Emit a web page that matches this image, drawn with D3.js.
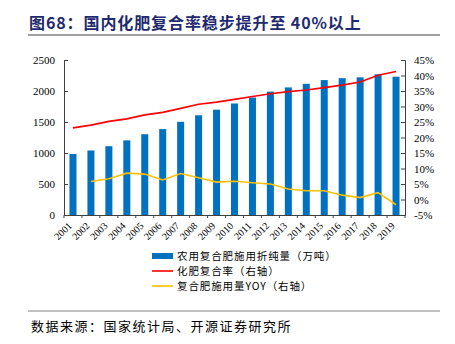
<!DOCTYPE html>
<html>
<head>
<meta charset="utf-8">
<script src="https://cdn.jsdelivr.net/npm/d3@7"></script>
<style>
  body { margin: 0; background: #fff; }
  svg text { font-family: "Liberation Serif", "Noto Sans CJK SC", serif; }
  .cjk { font-family: "Noto Sans CJK SC", sans-serif; }
</style>
</head>
<body>
<div id="chart"></div>
<script>
// 农用复合肥施用折纯量 (万吨), 化肥复合率 (%), 复合肥施用量同比 (%)
var years = ["2001","2002","2003","2004","2005","2006","2007","2008","2009","2010",
             "2011","2012","2013","2014","2015","2016","2017","2018","2019"];
var compoundUse = [983.7, 1040.4, 1109.7, 1204.0, 1303.2, 1385.9, 1503.0, 1608.6, 1698.7, 1798.5,
                   1895.1, 1990.0, 2057.5, 2115.8, 2175.7, 2207.1, 2220.3, 2268.8, 2230.7];
var compoundRate = [23.1, 24.0, 25.2, 26.0, 27.3, 28.1, 29.4, 30.7, 31.4, 32.3,
                    33.2, 34.1, 34.8, 35.3, 36.1, 36.9, 37.9, 40.1, 41.3];
var useYoy = [null, 5.8, 6.7, 8.5, 8.2, 6.3, 8.4, 7.0, 5.6, 5.9,
              5.4, 5.0, 3.4, 2.8, 2.8, 1.4, 0.6, 2.2, -1.7];
var leftTicks = [0, 500, 1000, 1500, 2000, 2500];
var rightTicks = [-5, 0, 5, 10, 15, 20, 25, 30, 35, 40, 45];
var legendNames = ["农用复合肥施用折纯量（万吨）", "化肥复合率（右轴）", "复合肥施用量YOY（右轴）"];

var width = 455, height = 344;
var margin = {top: 60, right: 50, bottom: 129, left: 64};
var innerW = width - margin.left - margin.right;
var innerH = height - margin.top - margin.bottom;

var svg = d3.select("#chart").append("svg")
  .attr("width", width)
  .attr("height", height);

// title + rule
svg.append("text")
  .attr("class", "cjk")
  .attr("x", 29).attr("y", 29)
  .attr("font-size", 16)
  .attr("letter-spacing", 0.9)
  .attr("font-weight", "bold")
  .attr("fill", "#1f2a6e")
  .text("图68：国内化肥复合率稳步提升至 40%以上");
svg.append("line")
  .attr("x1", 28).attr("x2", 440).attr("y1", 35).attr("y2", 35)
  .attr("stroke", "#808080").attr("stroke-width", 1.5);

var g = svg.append("g").attr("transform", "translate(" + margin.left + "," + margin.top + ")");

var x = d3.scaleBand().domain(years).range([0, innerW]);
var yL = d3.scaleLinear().domain([0, 2500]).range([innerH, 0]);
var yR = d3.scaleLinear().domain([-5, 45]).range([innerH, 0]);

// bars
g.selectAll(".bar")
  .data(years)
  .join("rect")
  .attr("class", "bar")
  .attr("x", function(d) { return x(d) + x.bandwidth() / 2 - 3.5; })
  .attr("width", 7)
  .attr("y", function(d, i) { return yL(compoundUse[i]); })
  .attr("height", function(d, i) { return innerH - yL(compoundUse[i]); })
  .attr("fill", "#0070c0");

// lines
var rateLine = d3.line()
  .x(function(d, i) { return x(years[i]) + x.bandwidth() / 2; })
  .y(function(d) { return yR(d); });
g.append("path")
  .datum(compoundRate)
  .attr("d", rateLine)
  .attr("fill", "none")
  .attr("stroke", "#ff0000")
  .attr("stroke-width", 1.6);

var yoyLine = d3.line()
  .defined(function(d) { return d != null; })
  .x(function(d, i) { return x(years[i]) + x.bandwidth() / 2; })
  .y(function(d) { return yR(d); });
g.append("path")
  .datum(useYoy)
  .attr("d", yoyLine)
  .attr("fill", "none")
  .attr("stroke", "#ffc000")
  .attr("stroke-width", 1.6);

// axes
var axisColor = "#404040";
var gl = g.append("g")
  .call(d3.axisLeft(yL).tickValues(leftTicks).tickSize(-4).tickPadding(9)
        .tickFormat(d3.format("d")));
var gr = g.append("g")
  .attr("transform", "translate(" + innerW + ",0)")
  .call(d3.axisRight(yR).tickValues(rightTicks).tickSize(-4).tickPadding(9)
        .tickFormat(function(d) { return d + "%"; }));
var gx = g.append("g")
  .attr("transform", "translate(0," + innerH + ")")
  .call(d3.axisBottom(x).tickSize(0));

[gl, gr, gx].forEach(function(a) {
  a.select(".domain").attr("stroke", axisColor);
  a.selectAll(".tick line").attr("stroke", axisColor);
  a.selectAll("text").attr("fill", "#000").attr("font-size", 11)
    .attr("font-family", "Liberation Serif");
});

gx.selectAll(".tick text")
  .attr("font-size", 10)
  .attr("y", 0)
  .attr("dy", "0.35em")
  .attr("text-anchor", "end")
  .attr("transform", "translate(-3,9) rotate(-45)");

// category boundary ticks along the bottom
g.selectAll(".btick")
  .data(d3.range(years.length + 1))
  .join("line")
  .attr("x1", function(i) { return i * x.step(); })
  .attr("x2", function(i) { return i * x.step(); })
  .attr("y1", innerH).attr("y2", innerH + 3)
  .attr("stroke", axisColor);

// legend
var lg = svg.append("g").attr("transform", "translate(152,256)");
var items = lg.selectAll("g").data(legendNames).join("g")
  .attr("transform", function(d, i) { return "translate(0," + (i * 15) + ")"; });
items.append("rect")
  .attr("x", 0).attr("width", 21)
  .attr("y", function(d, i) { return i == 0 ? -3 : -0.8; })
  .attr("height", function(d, i) { return i == 0 ? 6 : 1.6; })
  .attr("fill", function(d, i) { return ["#0070c0", "#ff0000", "#ffc000"][i]; });
items.append("text")
  .attr("class", "cjk")
  .attr("x", 25).attr("y", 4)
  .attr("font-size", 10.5)
  .attr("letter-spacing", 0.9)
  .attr("fill", "#000")
  .text(function(d) { return d; });

// source
svg.append("line")
  .attr("x1", 28).attr("x2", 440).attr("y1", 311).attr("y2", 311)
  .attr("stroke", "#808080").attr("stroke-width", 1);
svg.append("text")
  .attr("class", "cjk")
  .attr("x", 31).attr("y", 331)
  .attr("font-size", 13)
  .attr("letter-spacing", 1.5)
  .attr("fill", "#000")
  .text("数据来源：国家统计局、开源证券研究所");
</script>
</body>
</html>
